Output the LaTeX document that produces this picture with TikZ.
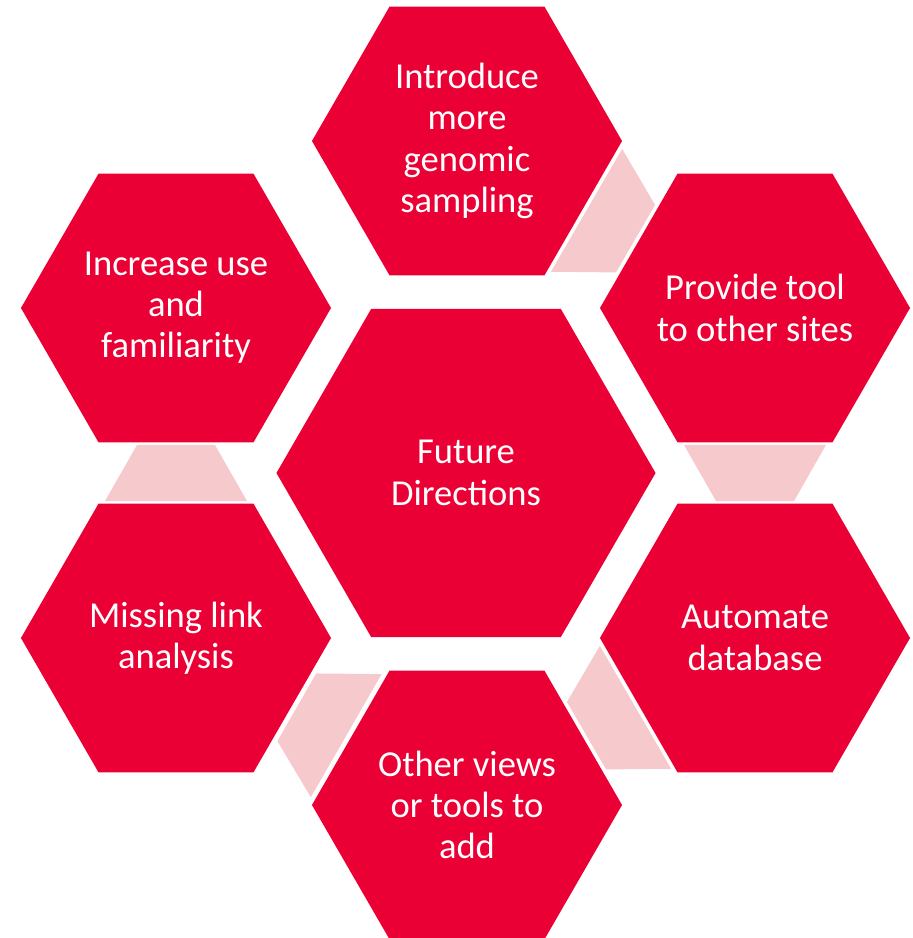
\documentclass[tikz,border=0pt]{standalone}
\usepackage{fontspec}
\setmainfont{Carlito}
\usepackage{xcolor}
\usetikzlibrary{shapes.geometric,calc}
\definecolor{hexred}{RGB}{234,0,52}
\definecolor{linkpink}{RGB}{246,202,205}

\begin{document}
\begin{tikzpicture}[x=0.025cm,y=0.025cm,
	hex/.style={regular polygon,regular polygon sides=6,fill=hexred,draw=none,inner sep=0pt,outer sep=0pt,
		minimum size=7.75cm,label={[hextext]center:#1}},
	hub/.style={hex=#1,minimum size=9.475cm},
	hextext/.style={text=white,align=center,font=\fontsize{26}{29.3}\selectfont},
	link/.style={fill=linkpink}]
		\useasboundingbox (-466,-465) rectangle (446,473);
		\node[hub={Future\\Directions}] (core) at (0,0) {};
		\node[hex={Introduce\\more\\genomic\\sampling}] (top) at (1,332) {};
		\node[hex={Provide tool\\to other sites}] (ur) at (289,165) {};
		\node[hex={Automate\\database}] (lr) at (289,-165) {};
		\node[hex={Other views\\or tools to\\add}] (bot) at (1,-332) {};
		\node[hex={Missing link\\analysis}] (ll) at (-290,-165) {};
		\node[hex={Increase use\\and\\familiarity}] (ul) at (-290,165) {};
	
		% trapezoid links, wide side at the source
		\foreach \a/\b in {top/ur,ur/lr,lr/bot,bot/ll,ll/ul}
			\fill[link] ($(\a)!0.415!(\b)!1.775cm!90:(\b)$) -- ($(\a)!0.415!(\b)!1.775cm!-90:(\b)$)
				-- ($(\a)!0.585!(\b)!0.975cm!-90:(\b)$) -- ($(\a)!0.585!(\b)!0.975cm!90:(\b)$) -- cycle;
\end{tikzpicture}
\end{document}
